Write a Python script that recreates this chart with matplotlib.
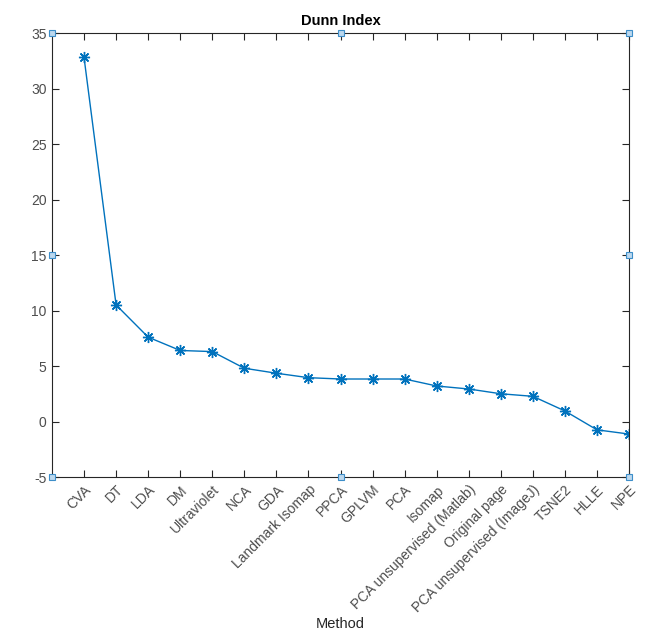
import matplotlib
matplotlib.use("Agg")
import matplotlib.pyplot as plt

plt.rcParams["font.family"] = ["Liberation Sans", "DejaVu Sans"]
plt.rcParams["axes.unicode_minus"] = False

methods = [
    "CVA", "DT", "LDA", "DM", "Ultraviolet", "NCA", "GDA", "Landmark Isomap",
    "PPCA", "GPLVM", "PCA", "Isomap", "PCA unsupervised (Matlab)",
    "Original page", "PCA unsupervised (ImageJ)", "TSNE2", "HLLE", "NPE",
]
dunn = [32.8, 10.5, 7.6, 6.4, 6.3, 4.8, 4.35, 3.95, 3.83, 3.83, 3.83,
        3.2, 2.93, 2.5, 2.27, 0.95, -0.75, -1.13]
yticks = [-5, 0, 5, 10, 15, 20, 25, 30, 35]

blue = "#0072BD"
grey = "#4d4d4d"

fig = plt.figure(figsize=(6.53, 6.39), dpi=100)
ax = fig.add_axes([0.0796, 0.2535, 0.8837, 0.6948])

x = list(range(1, len(methods) + 1))
ax.plot(x, dunn, color=blue, lw=1.0, marker=(8, 2, 0), markersize=8,
        markeredgewidth=1.0)

ax.set_xlim(0, len(methods))
ax.set_ylim(-5, 35)
ax.set_yticks(yticks)
ax.set_xticks(x)
ax.set_xticklabels(methods, rotation=45, ha="right", rotation_mode="anchor",
                   fontsize=10, color=grey)
ax.tick_params(axis="y", labelsize=10, labelcolor=grey)
ax.tick_params(direction="in", top=True, right=True, length=5, width=0.8,
               color="#262626", pad=4)
for s in ax.spines.values():
    s.set_color("#262626")
    s.set_linewidth(0.8)

# selection handles on the axes box
hx = [0, 0, 0, 0.5, 0.5, 1, 1, 1]
hy = [1, 0.5, 0, 1, 0, 1, 0.5, 0]
ax.plot(hx, hy, ls="none", marker="s", markersize=4.5, markerfacecolor="#bcd8ee",
        markeredgecolor="#3d8ec9", markeredgewidth=0.8,
        transform=ax.transAxes, clip_on=False, zorder=5)

ax.set_title("Dunn Index", fontsize=10.5, fontweight="bold", pad=6)
fig.text(0.521, 0.012, "Method", ha="center", va="bottom", fontsize=10.5,
         color="#262626")

fig.savefig("out.png", dpi=100)
